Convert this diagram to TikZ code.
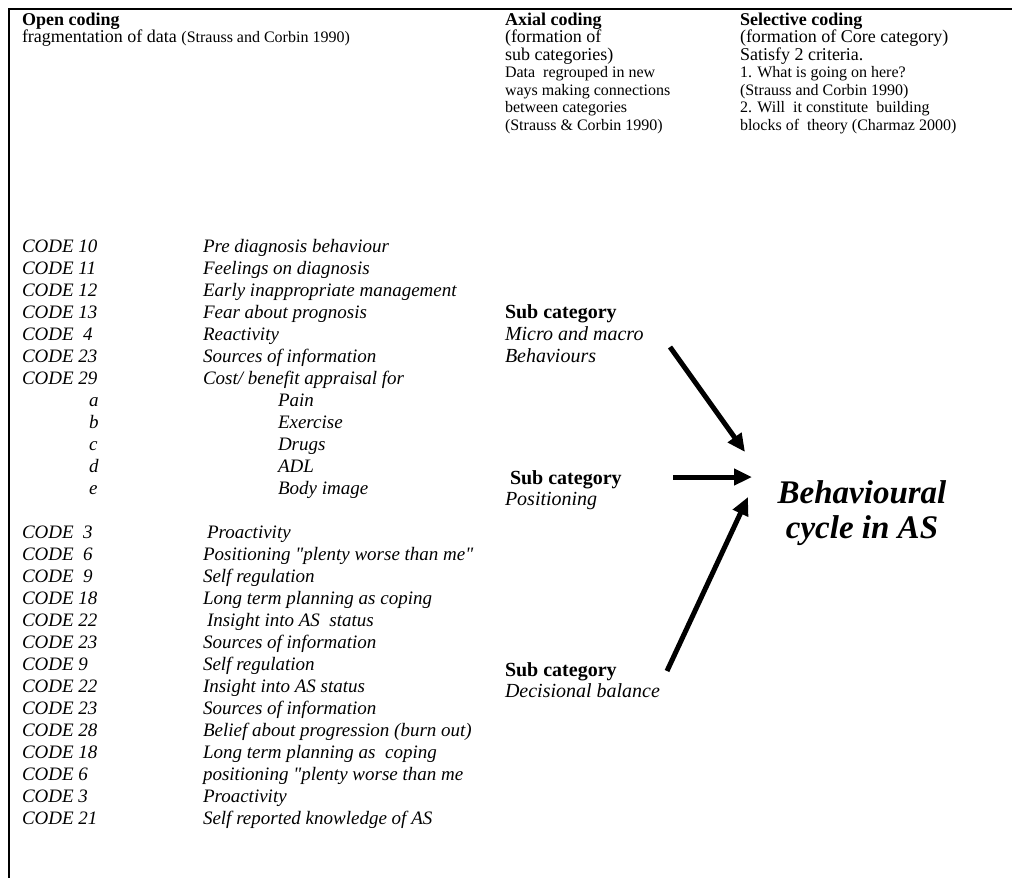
\documentclass[tikz,border=0pt]{standalone}
\usepackage{fontspec}
\setmainfont{Liberation Serif}
\usetikzlibrary{arrows.meta}
\begin{document}
\begin{tikzpicture}[x=1pt,y=-1pt,
  base/.style={anchor=base west, inner sep=0pt, outer sep=0pt},
  hd/.style={base, font=\fontsize{18}{20}\selectfont\bfseries},
  hn/.style={base, font=\fontsize{18}{20}\selectfont},
  hs/.style={base, font=\fontsize{16}{18}\selectfont},
  cd/.style={base, font=\fontsize{19}{22}\selectfont\itshape},
  sb/.style={base, font=\fontsize{20}{22}\selectfont\bfseries},
  si/.style={base, font=\fontsize{20}{22}\selectfont\itshape},
  big/.style={inner sep=0pt, align=center, font=\fontsize{33}{35}\selectfont\bfseries\itshape},
  frame/.style={line width=1.5pt},
  arr/.style={line width=5pt, -{Triangle[length=18pt,width=16pt]}}
]
\useasboundingbox (0,0) rectangle (1012,878);
\fill[white] (0,0) rectangle (1012,878);
% frame
\coordinate (ftl) at (9,9);
\coordinate (ftr) at (1012,9);
\coordinate (fbl) at (9,878);
\draw[frame] (ftr) -- (ftl) -- (fbl);

% headers
\node[hd] (oc) at (22,25) {Open coding};
\node[hn] (oc2) at (22,42.5) {fragmentation of data \fontsize{16}{18}\selectfont(Strauss and Corbin 1990)};

\node[hd] (ax1) at (505,25) {Axial coding};
\node[hn] (ax2) at (505,42.5) {(formation of};
\node[hn] (ax3) at (505,60) {sub categories)};
\node[hs] (ax4) at (505,77.5) {Data\ \ regrouped in new};
\node[hs] (ax5) at (505,95) {ways making connections};
\node[hs] (ax6) at (505,112.5) {between categories};
\node[hs] (ax7) at (505,130) {(Strauss \& Corbin 1990)};

\node[hd] (se1) at (740,25) {Selective coding};
\node[hn] (se2) at (740,42.5) {(formation of Core category)};
\node[hn] (se3) at (740,60) {Satisfy 2 criteria.};
\node[hs] (se4) at (740,77.5) {1. What is going on here?};
\node[hs] (se5) at (740,95) {(Strauss and Corbin 1990)};
\node[hs] (se6) at (740,112.5) {2. Will\ \ it constitute\ \ building};
\node[hs] (se7) at (740,130) {blocks of\ \ theory (Charmaz 2000)};

% code list, block 1
\node[cd] (c1) at (22,252) {CODE 10};  \node[cd] (d1) at (203,252) {Pre diagnosis behaviour};
\node[cd] (c2) at (22,274) {CODE 11};  \node[cd] (d2) at (203,274) {Feelings on diagnosis};
\node[cd] (c3) at (22,296) {CODE 12};  \node[cd] (d3) at (203,296) {Early inappropriate management};
\node[cd] (c4) at (22,318) {CODE 13};  \node[cd] (d4) at (203,318) {Fear about prognosis};
\node[cd] (c5) at (22,340) {CODE\ \ 4}; \node[cd] (d5) at (203,340) {Reactivity};
\node[cd] (c6) at (22,362) {CODE 23};  \node[cd] (d6) at (203,362) {Sources of information};
\node[cd] (c7) at (22,384) {CODE 29};  \node[cd] (d7) at (203,384) {Cost/ benefit appraisal for};
\node[cd] (c8) at (89,406) {a};  \node[cd] (d8) at (278,406) {Pain};
\node[cd] (c9) at (89,428) {b};  \node[cd] (d9) at (278,428) {Exercise};
\node[cd] (c10) at (89,450) {c}; \node[cd] (d10) at (278,450) {Drugs};
\node[cd] (c11) at (89,472) {d}; \node[cd] (d11) at (278,472) {ADL};
\node[cd] (c12) at (89,494) {e}; \node[cd] (d12) at (278,494) {Body image};

% code list, block 2
\node[cd] (c13) at (22,538) {CODE\ \ 3};  \node[cd] (d13) at (207,538) {Proactivity};
\node[cd] (c14) at (22,560) {CODE\ \ 6};  \node[cd] (d14) at (203,560) {Positioning \textquotedbl plenty worse than me\textquotedbl};
\node[cd] (c15) at (22,582) {CODE\ \ 9};  \node[cd] (d15) at (203,582) {Self regulation};
\node[cd] (c16) at (22,604) {CODE 18};  \node[cd] (d16) at (203,604) {Long term planning as coping};
\node[cd] (c17) at (22,626) {CODE 22};  \node[cd] (d17) at (207,626) {Insight into AS\ \ status};
\node[cd] (c18) at (22,648) {CODE 23};  \node[cd] (d18) at (203,648) {Sources of information};
\node[cd] (c19) at (22,670) {CODE 9};   \node[cd] (d19) at (203,670) {Self regulation};
\node[cd] (c20) at (22,692) {CODE 22};  \node[cd] (d20) at (203,692) {Insight into AS status};
\node[cd] (c21) at (22,714) {CODE 23};  \node[cd] (d21) at (203,714) {Sources of information};
\node[cd] (c22) at (22,736) {CODE 28};  \node[cd] (d22) at (203,736) {Belief about progression (burn out)};
\node[cd] (c23) at (22,758) {CODE 18};  \node[cd] (d23) at (203,758) {Long term planning as\ \ coping};
\node[cd] (c24) at (22,780) {CODE 6};   \node[cd] (d24) at (203,780) {positioning \textquotedbl plenty worse than me};
\node[cd] (c25) at (22,802) {CODE 3};   \node[cd] (d25) at (203,802) {Proactivity};
\node[cd] (c26) at (22,824) {CODE 21};  \node[cd] (d26) at (203,824) {Self reported knowledge of AS};

% sub categories
\node[sb] (s1) at (505,318) {Sub category};
\node[si] (s1a) at (505,340) {Micro and macro};
\node[si] (s1b) at (505,362) {Behaviours};
\node[sb] (s2) at (510,484) {Sub category};
\node[si] (s2a) at (505,505) {Positioning};
\node[sb] (s3) at (505,676) {Sub category};
\node[si] (s3a) at (505,697) {Decisional balance};

% core category
\node[big] (core) at (862,513) {Behavioural\\cycle in AS};

% arrows
\coordinate (a1s) at (670,347); \coordinate (a1e) at (745,452);
\coordinate (a2s) at (673,477); \coordinate (a2e) at (752,477);
\coordinate (a3s) at (667,671); \coordinate (a3e) at (748,497);
\draw[arr] (a1s) -- (a1e);
\draw[arr] (a2s) -- (a2e);
\draw[arr] (a3s) -- (a3e);
\end{tikzpicture}
\end{document}
